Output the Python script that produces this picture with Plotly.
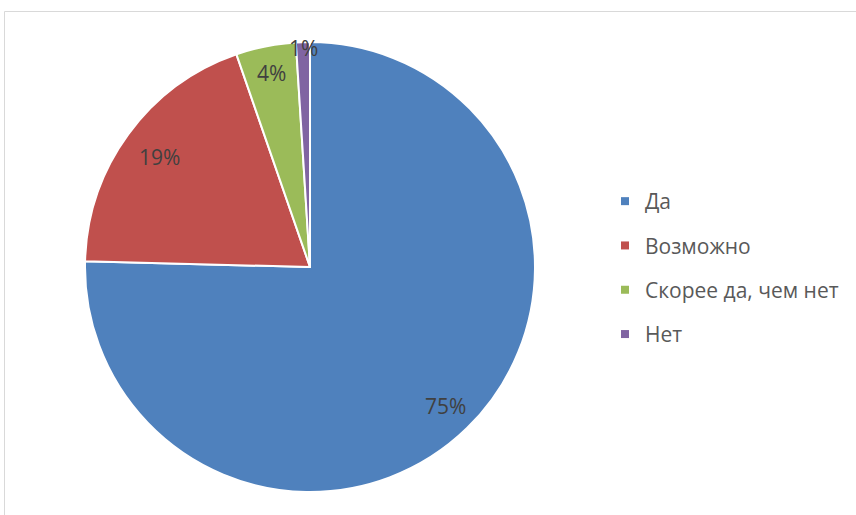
import math
import plotly.graph_objects as go

categories = ["Да", "Возможно", "Скорее да, чем нет", "Нет"]
values = [75.4, 19.3, 4.3, 1.0]
colors = ["#4F81BD", "#C0504D", "#9BBB59", "#8064A2"]
label_radius = [0.86, 0.826, 0.88, 0.976]

W, H = 856, 515
CX, CY, R = 310, 267, 225
FONT = "Open Sans"

fig = go.Figure()
fig.add_trace(go.Pie(
    labels=categories, values=values, sort=False, direction="clockwise", rotation=0,
    marker=dict(colors=colors, line=dict(color="white", width=2)),
    textinfo="none", hoverinfo="label+percent", showlegend=False,
    domain=dict(x=[(CX - R) / W, (CX + R) / W], y=[(H - CY - R) / H, (H - CY + R) / H]),
))

# legend entries
for cat, col in zip(categories, colors):
    fig.add_trace(go.Scatter(x=[None], y=[None], mode="markers", name=cat, legendgroup=cat,
                             marker=dict(symbol="square", size=8, color=col)))

# percentage labels computed from the values
total = sum(values)
cum = 0.0
for v, rf in zip(values, label_radius):
    mid = (cum + v / 2) / total * 2 * math.pi
    cum += v
    px = CX + rf * R * math.sin(mid)
    py = CY - rf * R * math.cos(mid)
    fig.add_annotation(x=px / W, y=1 - py / H, xref="paper", yref="paper",
                       xanchor="center", yanchor="middle",
                       text=f"{round(v / total * 100)}%", showarrow=False,
                       font=dict(family=FONT, size=21, color="#404040"))

fig.update_layout(
    width=W, height=H, margin=dict(l=0, r=0, t=0, b=0),
    paper_bgcolor="white", plot_bgcolor="white",
    xaxis=dict(visible=False), yaxis=dict(visible=False),
    legend=dict(x=605 / W, y=1 - 181 / H, xanchor="left", yanchor="top",
                font=dict(family=FONT, size=21, color="#595959"),
                tracegroupgap=14, traceorder="grouped"),
    shapes=[
        dict(type="line", xref="paper", yref="paper", x0=4.5 / W, x1=4.5 / W, y0=0, y1=1 - 11.5 / H,
             line=dict(color="#D9D9D9", width=1)),
        dict(type="line", xref="paper", yref="paper", x0=4.5 / W, x1=1, y0=1 - 11.5 / H, y1=1 - 11.5 / H,
             line=dict(color="#D9D9D9", width=1)),
    ],
)

fig.write_html("out.html", config={"displayModeBar": False},
               post_script="document.body.style.margin='0';")
